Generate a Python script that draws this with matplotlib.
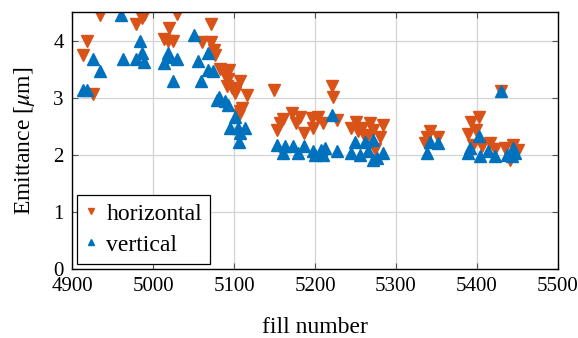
import numpy as np
import matplotlib
matplotlib.use('Agg')
import matplotlib.pyplot as plt

# dados: fill number x emitancia
fill_h = [4935, 4989, 4986, 4979, 5029, 5020, 5013, 5019, 5025, 4918, 4914, 4926,
          5071, 5060, 5072, 5075, 5077, 5083, 5094, 5089, 5093, 5108, 5091, 5097,
          5103, 5101, 5116, 5149, 5110, 5107, 5106, 5221, 5222, 5172, 5182, 5161,
          5157, 5177, 5153, 5186, 5196, 5204, 5210, 5198, 5227, 5245, 5251, 5258,
          5268, 5272, 5284, 5280, 5260, 5253, 5264, 5274, 5342, 5338, 5352, 5336,
          5403, 5392, 5399, 5389, 5395, 5416, 5406, 5422, 5435, 5445, 5451, 5441,
          5430]
emit_h = [4.44, 4.44, 4.40, 4.29, 4.47, 4.22, 4.02, 3.99, 3.99, 3.99, 3.75, 3.06,
          4.29, 3.97, 3.97, 3.84, 3.75, 3.50, 3.49, 3.39, 3.32, 3.29, 3.21, 3.17,
          3.15, 3.08, 3.04, 3.14, 2.82, 2.76, 2.70, 3.21, 3.01, 2.73, 2.67, 2.63,
          2.56, 2.56, 2.44, 2.38, 2.64, 2.67, 2.56, 2.47, 2.61, 2.47, 2.58, 2.47,
          2.56, 2.44, 2.53, 2.31, 2.35, 2.41, 2.32, 2.10, 2.41, 2.31, 2.32, 2.21,
          2.67, 2.57, 2.44, 2.37, 2.18, 2.21, 2.16, 2.10, 2.12, 2.18, 2.09, 1.91,
          3.11]

fill_v = [4960, 4984, 4987, 4979, 4989, 4963, 4926, 4935, 4914, 4918, 5050, 5018,
          5019, 5013, 5029, 5025, 5056, 5068, 5068, 5074, 5059, 5081, 5079, 5089,
          5093, 5101, 5095, 5105, 5114, 5107, 5106, 5153, 5163, 5173, 5186, 5161,
          5179, 5198, 5208, 5212, 5200, 5210, 5221, 5227, 5249, 5262, 5272, 5245,
          5256, 5266, 5276, 5272, 5284, 5342, 5352, 5338, 5430, 5402, 5391, 5389,
          5404, 5414, 5422, 5437, 5445, 5447, 5443]
emit_v = [4.44, 4.00, 3.78, 3.68, 3.62, 3.67, 3.68, 3.46, 3.14, 3.14, 4.09, 3.78,
          3.71, 3.61, 3.67, 3.29, 3.64, 3.79, 3.49, 3.46, 3.29, 3.02, 2.96, 2.94,
          2.88, 2.67, 2.47, 2.47, 2.47, 2.38, 2.23, 2.18, 2.15, 2.15, 2.15, 2.03,
          2.03, 2.06, 2.09, 2.12, 2.00, 2.00, 2.70, 2.06, 2.23, 2.23, 2.26, 2.03,
          2.00, 2.06, 1.94, 1.91, 2.03, 2.23, 2.21, 2.04, 3.12, 2.33, 2.12, 2.03,
          1.97, 2.06, 1.97, 2.00, 2.12, 2.03, 1.97]

x_ticks = [4900, 5000, 5100, 5200, 5300, 5400, 5500]
y_ticks = [0, 1, 2, 3, 4]

cor_h = '#D95319'
cor_v = '#0072BD'

plt.rcParams['font.family'] = 'serif'
plt.rcParams['font.serif'] = ['Liberation Serif', 'DejaVu Serif']
plt.rcParams['mathtext.fontset'] = 'stix'

fig = plt.figure(figsize=(5.78, 3.38), dpi=100)
ax = fig.add_axes([0.1246, 0.2041, 0.8408, 0.7604])

ax.plot(fill_h, emit_h, linestyle='none', marker='v', markersize=8,
        color=cor_h, label='horizontal')
ax.plot(fill_v, emit_v, linestyle='none', marker='^', markersize=8,
        color=cor_v, label='vertical')

ax.set_xlim(4900, 5500)
ax.set_ylim(0, 4.5)
ax.set_xticks(x_ticks)
ax.set_yticks(y_ticks)
ax.grid(True, color='#d4d4d4', linewidth=0.9)
ax.set_axisbelow(True)

ax.tick_params(direction='in', top=True, right=True, length=4, width=0.8,
               color='#555555', labelsize=15, pad=6)
for s in ax.spines.values():
    s.set_linewidth(1.0)
    s.set_color('black')

ax.set_xlabel('fill number', fontsize=17, labelpad=15)
ax.set_ylabel('Emittance [$\\mu$m]', fontsize=17, labelpad=12)

leg = ax.legend(loc='lower left', fontsize=17, markerscale=0.55,
                fancybox=False, edgecolor='black', framealpha=1,
                handlelength=0.5, handletextpad=0.4, borderpad=0.35,
                labelspacing=0.4, borderaxespad=0,
                bbox_to_anchor=(0.01, 0.02))
leg.get_frame().set_linewidth(0.9)

fig.savefig('out.png', dpi=100)
